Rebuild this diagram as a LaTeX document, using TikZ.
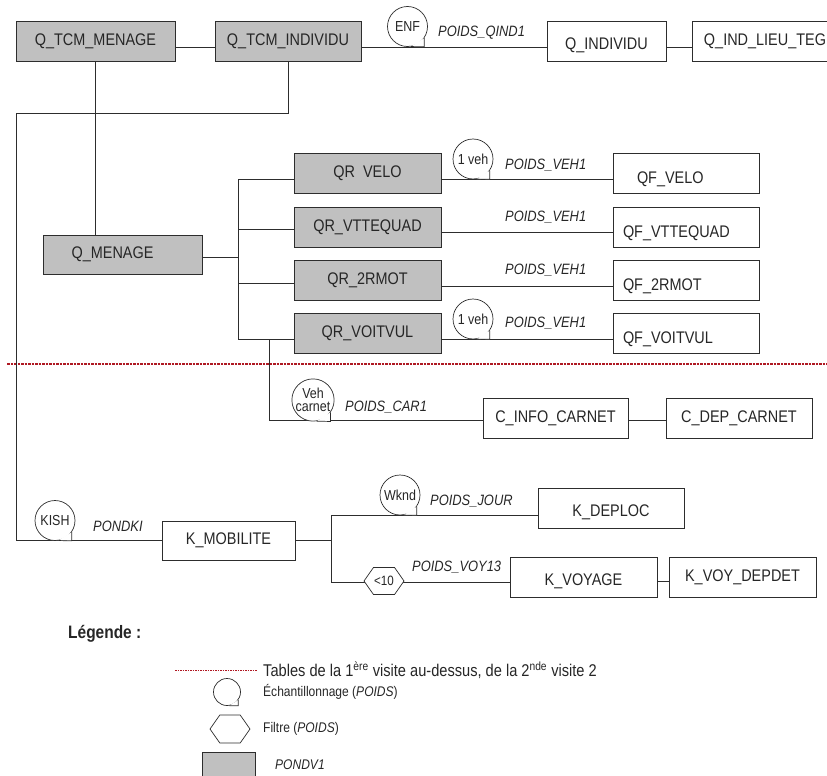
\documentclass[tikz,border=0pt]{standalone}
\usepackage{fontspec}
\setmainfont{Liberation Sans}[FakeStretch=0.86]
\usetikzlibrary{shapes.symbols}
\definecolor{gristable}{RGB}{192,192,192}
\definecolor{trait}{RGB}{45,45,45}
\definecolor{rougevisite}{RGB}{175,25,35}
\begin{document}
\begin{tikzpicture}[x=1pt,y=-1pt,
  tableau/.style={draw=trait, line width=0.9pt, minimum height=40pt, inner sep=0pt, text=black!85, font=\fontsize{16.8}{19}\selectfont},
  pond/.style={tableau, fill=gristable},
  bas/.style={text height=20pt, text depth=4pt},
  tabqf/.style={tableau, bas, minimum width=146pt, text height=24pt, text width=126pt, align=left},
  poids/.style={anchor=west, inner sep=0pt, text=black!85, font=\fontsize{15}{17}\selectfont\itshape},
  bulle/.style={circle, draw=trait, fill=white, line width=0.7pt, minimum size=40pt, inner sep=0pt, align=center, text=black!85, font=\fontsize{14.5}{13.5}\selectfont},
  queue/.style={draw=trait, fill=white, line width=0.7pt},
  filtre/.style={signal, signal to=east and west, signal pointer angle=110, draw=trait, fill=white, line width=0.7pt, minimum width=40pt, minimum height=27pt, inner sep=0pt, text=black!85, font=\fontsize{13.5}{15}\selectfont},
  lien/.style={draw=trait, line width=0.8pt},
  visite/.style={draw=rougevisite, line width=1.2pt, dash pattern=on 2.5pt off 1pt},
  legtexte/.style={anchor=west, inner sep=0pt, text=black!85, font=\fontsize{14}{16}\selectfont},
]
\useasboundingbox (0,0) rectangle (827,776);
% premiere visite
\node[pond, minimum width=159pt] (tcmmen) at (95.5,41) {Q\_TCM\_MENAGE};
\node[pond, minimum width=146pt] (tcmind) at (288,41) {Q\_TCM\_INDIVIDU};
\node[tableau, bas, minimum width=119pt] (qind) at (606.5,41) {Q\_INDIVIDU};
\node[tableau, minimum width=146pt] (qindlieu) at (765,41) {Q\_IND\_LIEU\_TEG};
\draw[lien] ([yshift=-6pt]tcmmen.east) -- ([yshift=-6pt]tcmind.west);
\draw[lien] ([yshift=-6pt]tcmind.east) -- ([yshift=-6pt]qind.west);
\draw[lien] ([yshift=-6pt]qind.east) -- ([yshift=-6pt]qindlieu.west);
\node[bulle] (enf) at (407.5,26.5) {ENF};
\draw[queue] (enf.-35) -- (enf.-35 |- enf.south) -- (enf.-80);
\node[poids] (pqind) at (438,33) {POIDS\_QIND1};
\node[pond, minimum width=159pt, minimum height=39pt] (qmen) at (122.5,254.5) {\hspace*{-20pt}Q\_MENAGE};
\draw[lien] (tcmmen.south) -- (tcmmen.south |- qmen.north);
\coordinate (coin) at (16,113);
\node[pond, minimum width=147pt] (qrvelo) at (367.5,173.5) {QR\phantom{\_}VELO};
\node[pond, minimum width=147pt] (qrvtt) at (367.5,227) {QR\_VTTEQUAD};
\node[pond, minimum width=147pt] (qrmot) at (367.5,280.5) {QR\_2RMOT};
\node[pond, minimum width=147pt] (qrvoit) at (367.5,333) {QR\_VOITVUL};
\node[tabqf] (qfvelo) at (686,173.5) {\hspace*{14pt}QF\_VELO};
\node[tabqf] (qfvtt) at (686,227) {QF\_VTTEQUAD};
\node[tabqf] (qfmot) at (686,280.5) {QF\_2RMOT};
\node[tabqf] (qfvoit) at (686,333) {QF\_VOITVUL};
\coordinate (bh) at (238,179);
\coordinate (bv) at (238,229);
\coordinate (bm) at (238,257);
\coordinate (bt) at (238,283);
\coordinate (bb) at (238,339);
\draw[lien] (bm -| qmen.east) -- (bm);
\draw[lien] (bh -| qrvelo.west) -- (bh) -- (bb) -- (bb -| qrvoit.west);
\draw[lien] (bv) -- (bv -| qrvtt.west);
\draw[lien] (bt) -- (bt -| qrmot.west);
\draw[lien] ([yshift=-5.5pt]qrvelo.east) -- ([yshift=-5.5pt]qfvelo.west);
\draw[lien] ([yshift=-5.5pt]qrvtt.east) -- ([yshift=-5.5pt]qfvtt.west);
\draw[lien] ([yshift=-5.5pt]qrmot.east) -- ([yshift=-5.5pt]qfmot.west);
\draw[lien] ([yshift=-6pt]qrvoit.east) -- ([yshift=-6pt]qfvoit.west);
\node[bulle] (veh1) at (473,159) {1 veh};
\draw[queue] (veh1.-35) -- (veh1.-35 |- veh1.south) -- (veh1.-80);
\node[bulle] (veh2) at (473,319) {1 veh};
\draw[queue] (veh2.-35) -- (veh2.-35 |- veh2.south) -- (veh2.-80);
\node[poids] (pveh1) at (505,165) {POIDS\_VEH1};
\node[poids] (pveh2) at (505,217) {POIDS\_VEH1};
\node[poids] (pveh3) at (505,270) {POIDS\_VEH1};
\node[poids] (pveh4) at (505,323) {POIDS\_VEH1};
% separation des visites
\coordinate (visA) at (7,364);
\coordinate (visB) at (827,364);
\draw[visite] (visA) -- (visB);
% carnet
\node[tableau, minimum width=145pt] (cinfo) at (555.5,418) {C\_INFO\_CARNET};
\node[tableau, minimum width=146pt] (cdep) at (739,418) {C\_DEP\_CARNET};
\coordinate (bc) at (269,339);
\draw[lien] (bc) |- ([yshift=-2pt]cinfo.west);
\draw[lien] ([yshift=-2pt]cinfo.east) -- ([yshift=-2pt]cdep.west);
\node[bulle] (vehcar) at (313,400) {Veh\\carnet};
\draw[queue] (vehcar.-35) -- (vehcar.-35 |- vehcar.south) -- (vehcar.-80);
\node[poids] (pcar) at (345,407) {POIDS\_CAR1};
% mobilite
\node[tableau, minimum width=133pt, minimum height=39pt] (kmob) at (228.5,540.5) {K\_MOBILITE};
\draw[lien] (tcmind.south) |- (coin) |- (kmob.west);
\node[bulle] (kish) at (55,520.5) {KISH};
\draw[queue] (kish.-35) -- (kish.-35 |- kish.south) -- (kish.-80);
\node[poids] (pkish) at (93,526) {PONDKI};
\node[tableau, bas, minimum width=146pt] (kdeploc) at (611,508) {K\_DEPLOC};
\node[tableau, bas, minimum width=147pt] (kvoy) at (583.5,577) {K\_VOYAGE};
\node[tableau, minimum width=147pt] (kvoydep) at (742.5,577) {K\_VOY\_DEPDET};
\coordinate (kh) at (331,515);
\coordinate (kb) at (331,582);
\draw[lien] (kmob.east) -- (kmob.east -| kh);
\draw[lien] (kh -| kdeploc.west) -- (kh) -- (kb) -- (kb -| kvoy.west);
\draw[lien] ([yshift=-4pt]kvoy.east) -- ([yshift=-4pt]kvoydep.west);
\node[bulle] (wknd) at (400,495) {Wknd};
\draw[queue] (wknd.-35) -- (wknd.-35 |- wknd.south) -- (wknd.-80);
\node[poids] (pjour) at (430,501) {POIDS\_JOUR};
\node[filtre] (moins10) at (384,581) {<10};
\node[poids] (pvoy) at (412,567) {POIDS\_VOY13};
% legende
\node[anchor=west, inner sep=0pt, text=black!85, font=\fontsize{18}{20}\selectfont\bfseries] (legende) at (68,634) {Légende :};
\coordinate (lgA) at (175,670);
\coordinate (lgB) at (257,670);
\draw[visite, line width=0.9pt, dash pattern=on 1.5pt off 1pt] (lgA) -- (lgB);
\node[legtexte, font=\fontsize{17}{19}\selectfont] (lgvisite) at (263,670) {Tables de la 1\textsuperscript{ère} visite au-dessus, de la 2\textsuperscript{nde} visite 2};
\node[bulle, minimum size=27pt] (lgbulle) at (227,692) {};
\draw[queue] (lgbulle.-35) -- (lgbulle.-35 |- lgbulle.south) -- (lgbulle.-80);
\node[legtexte] (lgech) at (263,692) {Échantillonnage (\textit{POIDS})};
\node[filtre, minimum height=28pt] (lgfiltre) at (230,729) {};
\node[legtexte] (lgfil) at (263,729) {Filtre (\textit{POIDS})};
\node[pond, minimum width=53pt, minimum height=38pt] (lgpond) at (228.5,771) {};
\node[legtexte, font=\fontsize{14}{16}\selectfont\itshape] (lgpondv) at (275,765) {PONDV1};
\end{tikzpicture}
\end{document}
